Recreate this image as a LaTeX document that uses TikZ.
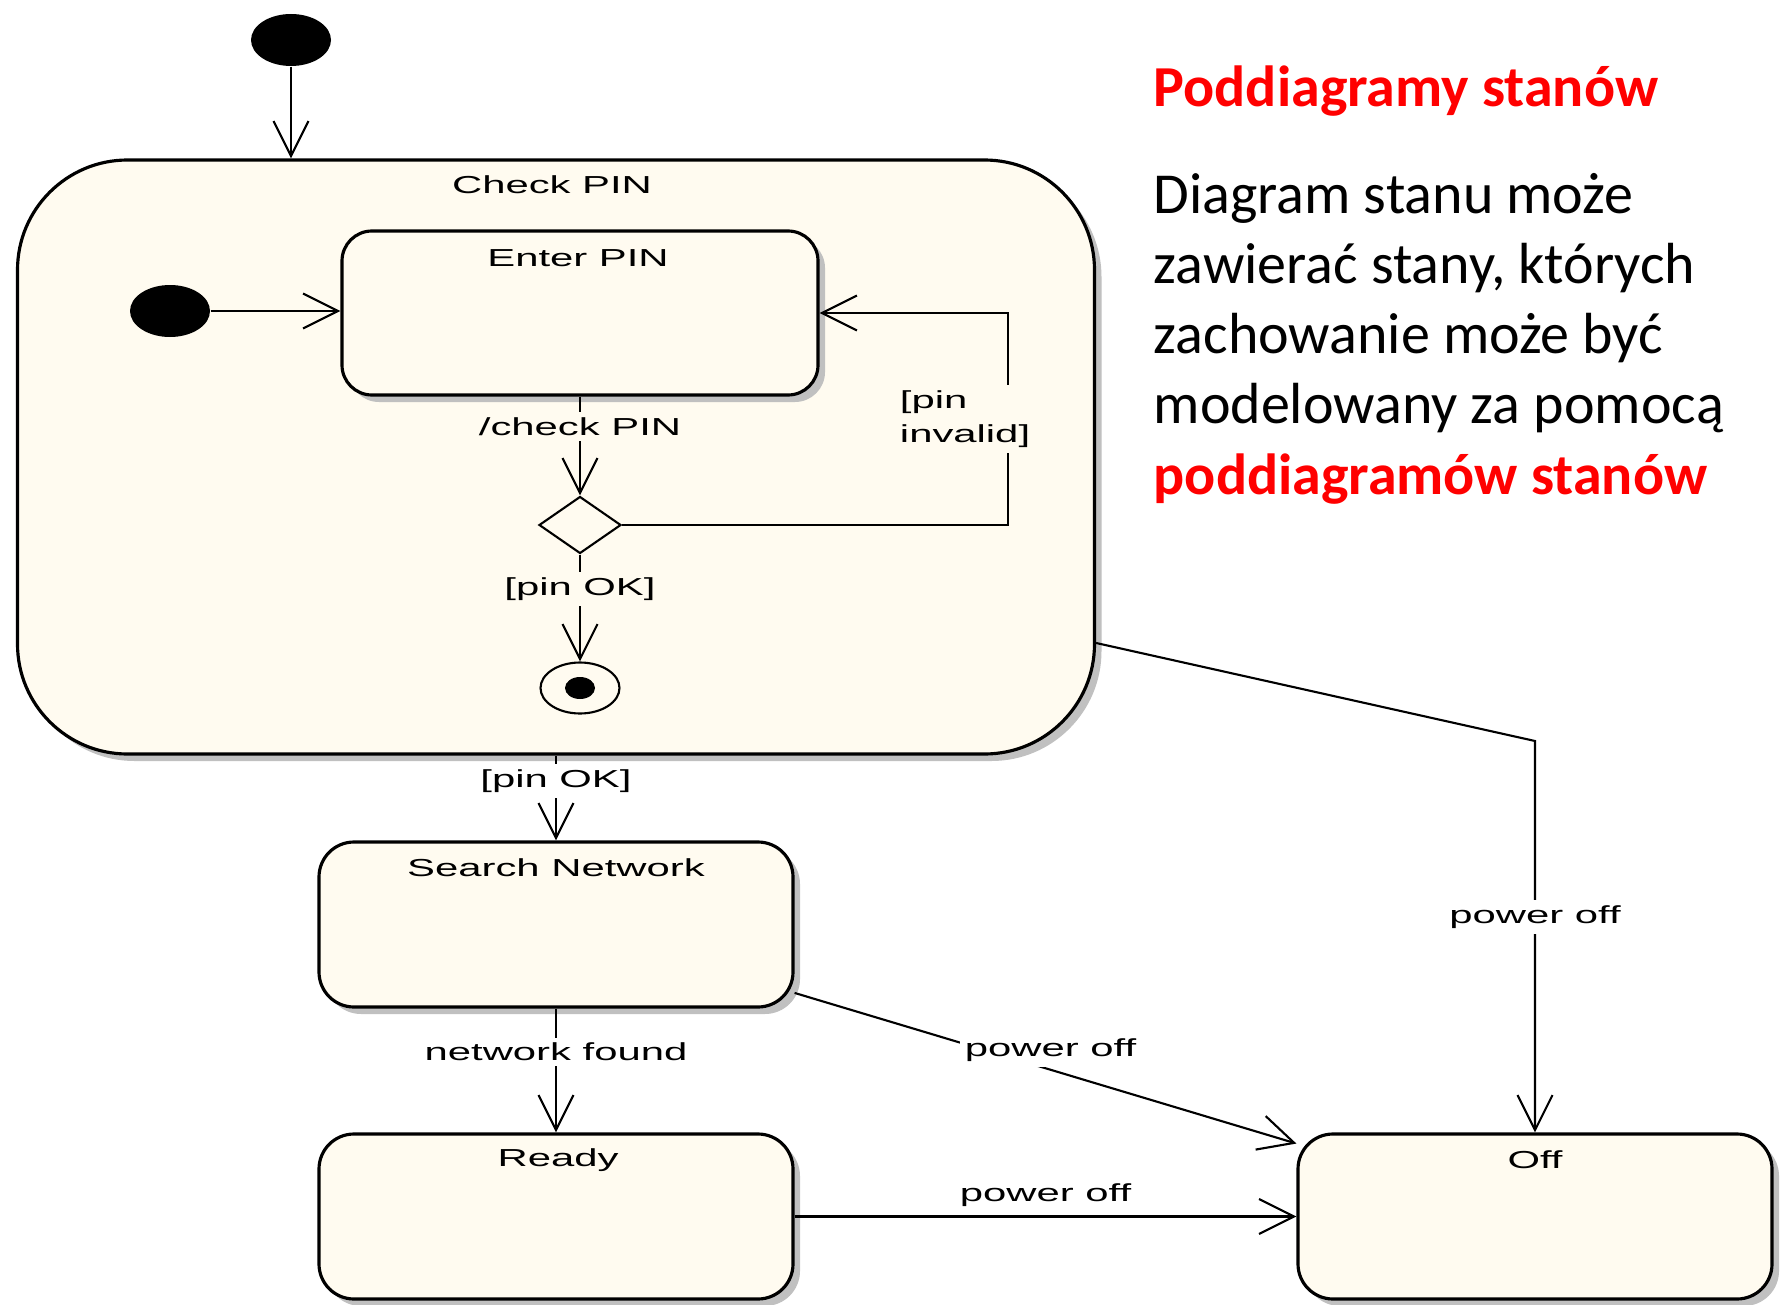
\documentclass[tikz,border=0pt]{standalone}
\usepackage{fontspec}
\setmainfont{Carlito}
\newfontfamily\umlfont[FakeStretch=1.7]{Liberation Sans}
\usetikzlibrary{arrows.meta, shapes.geometric, shadows}

\definecolor{statefill}{RGB}{255,251,240}
\definecolor{shadowgray}{RGB}{192,192,192}
\definecolor{titlered}{RGB}{255,0,0}

\begin{document}
\begin{tikzpicture}[
    statebox/.style={rectangle, draw, line width=0.9pt, fill=statefill, rounded corners=0.35cm,
        minimum width=4.74cm, minimum height=1.65cm,
        drop shadow={shadow xshift=0.07cm, shadow yshift=-0.07cm, fill=shadowgray, opacity=1}},
    superstate/.style={statebox, rounded corners=1.1cm, minimum width=10.77cm, minimum height=5.94cm},
    startstate/.style={ellipse, fill=black, minimum width=0.80cm, minimum height=0.52cm, inner sep=0},
    endstate/.style={ellipse, draw, line width=0.6pt, fill=statefill, minimum width=0.79cm, minimum height=0.51cm, inner sep=0,
        path picture={\fill[black] (path picture bounding box.center) ellipse (0.15cm and 0.11cm);}},
    choicebox/.style={diamond, draw, line width=0.6pt, fill=statefill, minimum width=0.82cm, minimum height=0.57cm, inner sep=0},
    statename/.style={font=\umlfont\fontsize{7}{8.5}\selectfont},
    guard/.style={font=\umlfont\fontsize{7}{9.7}\selectfont, inner sep=1.5pt},
    arrow/.style={-{Straight Barb[length=3.5mm, width=3.5mm]}, line width=0.6pt},
    heading/.style={anchor=base west, font=\fontsize{16.5}{19.9}\selectfont\bfseries, text=titlered, inner sep=0},
    bodyline/.style={anchor=base west, font=\fontsize{16.5}{19.9}\selectfont, inner sep=0}
]
\fill[white] (0,0) rectangle (17.87,-13.05);
\useasboundingbox (0,0) rectangle (17.87,-13.05);

% Start
\node[startstate] (start) at (2.91,-0.40) {};

% Composite state Check PIN
\node[superstate] (checkpin) at (5.56,-4.57) {};
\node[statename] (checkpinname) at (5.52,-1.85) {Check PIN};

% Substates of Check PIN
\node[startstate] (pinstart) at (1.70,-3.11) {};
\node[statebox, rounded corners=0.3cm, minimum width=4.76cm, minimum height=1.64cm] (enterpin) at (5.80,-3.13) {};
\node[statename] (enterpinname) at (5.78,-2.58) {Enter PIN};
\node[choicebox] (pincheck) at (5.80,-5.25) {};
\node[endstate] (pinend) at (5.80,-6.88) {};

% Other states
\node[statebox] (searchnet) at (5.56,-9.245) {};
\node[statename] (searchnetname) at (5.56,-8.68) {Search Network};
\node[statebox] (ready) at (5.56,-12.165) {};
\node[statename] (readyname) at (5.58,-11.60) {Ready};
\node[statebox] (off) at (15.35,-12.165) {};
\node[statename] (offname) at (15.35,-11.60) {Off};

% Text
\node[heading] (title) at (11.53,-1.07) {Poddiagramy stanów};
\node[bodyline] (line1) at (11.53,-2.13) {Diagram stanu może};
\node[bodyline] (line2) at (11.53,-2.83) {zawierać stany, których};
\node[bodyline] (line3) at (11.53,-3.53) {zachowanie może być};
\node[bodyline] (line4) at (11.53,-4.23) {modelowany za pomocą};
\node[heading] (line5) at (11.53,-4.94) {poddiagramów stanów};

% Transitions inside Check PIN
\draw[arrow] (start) -- (start |- checkpin.north);
\draw[arrow] (pinstart) -- (pinstart -| enterpin.west);
\draw[arrow] (enterpin) -- node[guard, fill=statefill, pos=0.3] {/check PIN} (pincheck);
\draw[arrow] (pincheck) -- node[guard, fill=statefill, pos=0.32] {[pin OK]} (pinend);
\draw[arrow] (pincheck.east) -- ++(3.86,0) |- node[guard, fill=statefill, align=left, pos=0.25, xshift=-0.43cm] {[pin\\invalid]} (enterpin.east);

% Transitions between states
\draw[arrow] (checkpin) -- node[guard, fill=white, pos=0.3] {[pin OK]} (searchnet);
\draw[arrow] (searchnet) -- node[guard, fill=white, pos=0.35] {network found} (ready);
\draw[arrow] (searchnet.-16) -- node[guard, fill=white, xshift=0.05cm, yshift=0.18cm] {power off} (off.163);
\draw[arrow] (ready) -- node[guard, above=1pt] {power off} (off);
\coordinate (offbend) at (15.35,-7.41);
\draw[arrow] (checkpin.-19) -- (offbend) -- node[guard, fill=white, pos=0.45] {power off} (off);

\end{tikzpicture}
\end{document}
